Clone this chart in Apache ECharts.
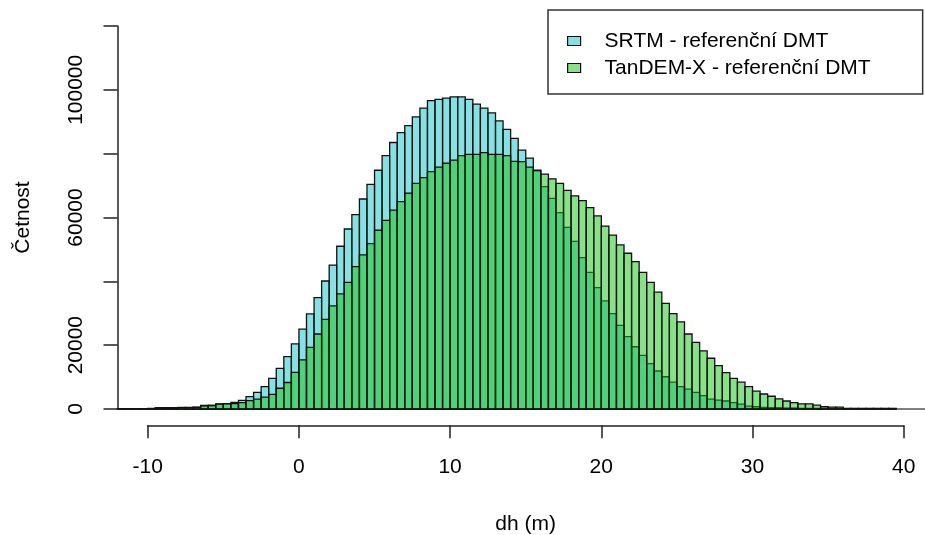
<!DOCTYPE html>
<html>
<head>
<meta charset="utf-8">
<title>Histogram dh</title>
<script src="https://cdn.jsdelivr.net/npm/echarts@6/dist/echarts.min.js"></script>
<style>
  html, body { margin: 0; padding: 0; background: #ffffff; }
  #chart { width: 925px; height: 535px; }
</style>
</head>
<body>
<div id="chart"></div>
<script>
// Left edges of the 0.5 m histogram bins
const binLeft = [
  -12, -11.5, -11, -10.5, -10, -9.5, -9, -8.5, -8, -7.5, -7, -6.5, -6, -5.5, -5, -4.5,
  -4, -3.5, -3, -2.5, -2, -1.5, -1, -0.5, 0, 0.5, 1, 1.5, 2, 2.5, 3, 3.5,
  4, 4.5, 5, 5.5, 6, 6.5, 7, 7.5, 8, 8.5, 9, 9.5, 10, 10.5, 11, 11.5,
  12, 12.5, 13, 13.5, 14, 14.5, 15, 15.5, 16, 16.5, 17, 17.5, 18, 18.5, 19, 19.5,
  20, 20.5, 21, 21.5, 22, 22.5, 23, 23.5, 24, 24.5, 25, 25.5, 26, 26.5, 27, 27.5,
  28, 28.5, 29, 29.5, 30, 30.5, 31, 31.5, 32, 32.5, 33, 33.5, 34, 34.5, 35, 35.5,
  36, 36.5, 37, 37.5, 38, 38.5, 39
];
const binWidth = 0.5;

// Counts per bin: SRTM minus reference DMT
const srtmCounts = [
  100, 100, 100, 100, 150, 300, 350, 400, 400, 450, 500, 1100, 1100, 1600, 1700, 2100,
  2700, 3900, 5200, 7000, 9600, 12700, 16400, 20400, 25000, 29800, 34900, 40100, 45100, 51000, 56400, 60900,
  65800, 70400, 74800, 79400, 83500, 86600, 88800, 91500, 94300, 96600, 97000, 97400, 97800, 97800, 97000, 95500,
  94300, 92800, 90300, 87600, 84800, 81100, 78600, 74600, 69700, 66000, 61500, 56900, 52500, 47400, 42800, 38000,
  33900, 29900, 26200, 22700, 19500, 16800, 14200, 11900, 10100, 8400, 7000, 6200, 5200, 4200, 3100, 2800,
  2500, 2000, 1500, 900, 700, 500, 400, 400, 300, 300, 200, 200, 200, 150, 150, 100,
  100, 100, 100, 100, 100, 100, 100
];

// Counts per bin: TanDEM-X minus reference DMT
const tandemCounts = [
  100, 100, 100, 100, 150, 400, 450, 450, 500, 500, 550, 1000, 1100, 1500, 1600, 1700,
  2000, 2600, 3100, 3700, 4600, 6500, 8300, 11500, 15400, 19300, 23500, 28100, 32300, 36100, 39700, 44600,
  48300, 51800, 56000, 59100, 62300, 65000, 67600, 70700, 72500, 74400, 75800, 77000, 78000, 79400, 79800, 79800,
  80300, 79800, 79800, 79400, 77600, 77500, 75800, 74800, 73600, 72100, 70700, 68500, 66800, 65300, 63100, 60500,
  57300, 54500, 51400, 48800, 46200, 42800, 39700, 36600, 33100, 29900, 27300, 23500, 20900, 18200, 15900, 13600,
  11400, 9600, 8400, 7000, 5600, 4700, 4000, 3200, 2500, 2000, 1600, 1600, 1200, 700, 600, 600,
  200, 200, 200, 200, 200, 200, 200
];

const seriesNames = ['SRTM - referenční DMT', 'TanDEM-X - referenční DMT'];
const xTicks = [-10, 0, 10, 20, 30, 40];
const yTicks = [0, 20000, 40000, 60000, 80000, 100000, 120000];
const yLabelled = [0, 20000, 60000, 100000];

const FONT = 'Liberation Sans, Arial, sans-serif';
const fillSrtm = 'rgba(13, 197, 197, 0.5)';
const fillTandem = 'rgba(17, 193, 17, 0.5)';
const edge = '#111111';

function toBins(counts) {
  return binLeft.map((x0, i) => [x0, x0 + binWidth, counts[i]]);
}

function histRenderer(fill) {
  return function (params, api) {
    const lo = api.coord([api.value(0), api.value(2)]);
    const hi = api.coord([api.value(1), 0]);
    return {
      type: 'rect',
      shape: { x: lo[0], y: lo[1], width: hi[0] - lo[0], height: hi[1] - lo[1] },
      style: { fill: fill, stroke: edge, lineWidth: 1.3 }
    };
  };
}

const chart = echarts.init(document.getElementById('chart'), null, { renderer: 'canvas' });

chart.setOption({
  animation: false,
  backgroundColor: '#ffffff',
  textStyle: { fontFamily: FONT },
  grid: [
    { left: 117.5, top: 26, width: 807.5, height: 383, containLabel: false },
    { left: 147.7, top: 425, width: 756, height: 1, containLabel: false }
  ],
  xAxis: [
    {
      gridIndex: 0, type: 'value', min: -12, max: 41.406,
      axisLine: { show: true, onZero: false, lineStyle: { color: '#555555', width: 1.5 } },
      axisTick: { show: false }, axisLabel: { show: false }, splitLine: { show: false }
    },
    {
      gridIndex: 1, type: 'value', min: xTicks[0], max: xTicks[xTicks.length - 1], interval: 10,
      position: 'bottom',
      name: 'dh (m)', nameLocation: 'middle', nameGap: 88,
      nameTextStyle: { fontFamily: FONT, fontSize: 21, color: '#000' },
      axisLine: { show: true, onZero: false, lineStyle: { color: '#222222', width: 1.5 } },
      axisTick: { show: true, length: 13, inside: false, lineStyle: { color: '#222222', width: 1.5 } },
      axisLabel: { show: true, margin: 31, fontFamily: FONT, fontSize: 21, color: '#000' },
      splitLine: { show: false }
    }
  ],
  yAxis: [
    {
      gridIndex: 0, type: 'value', min: yTicks[0], max: yTicks[yTicks.length - 1], interval: 20000,
      position: 'left',
      name: 'Četnost', nameLocation: 'middle', nameGap: 84, nameRotate: 90,
      nameTextStyle: { fontFamily: FONT, fontSize: 21, color: '#000' },
      axisLine: { show: true, onZero: false, lineStyle: { color: '#222222', width: 1.5 } },
      axisTick: { show: true, length: 14, inside: false, lineStyle: { color: '#222222', width: 1.5 } },
      axisLabel: {
        show: true, rotate: 90, margin: 31, fontFamily: FONT, fontSize: 21, color: '#000',
        formatter: v => (yLabelled.indexOf(v) >= 0 ? String(v) : '')
      },
      splitLine: { show: false }
    },
    { gridIndex: 1, type: 'value', show: false }
  ],
  legend: {
    orient: 'vertical', left: 548, top: 10,
    padding: [19, 52, 14, 19],
    itemWidth: 13, itemHeight: 9, itemGap: 3,
    borderColor: '#333333', borderWidth: 1.5, borderRadius: 0,
    textStyle: { fontFamily: FONT, fontSize: 21, color: '#000', lineHeight: 24, padding: [0, 0, 0, 19] },
    data: [
      { name: seriesNames[0], icon: 'rect', itemStyle: { color: fillSrtm, borderColor: edge, borderWidth: 1.2 } },
      { name: seriesNames[1], icon: 'rect', itemStyle: { color: fillTandem, borderColor: edge, borderWidth: 1.2 } }
    ]
  },
  series: [
    {
      name: seriesNames[0], type: 'custom', xAxisIndex: 0, yAxisIndex: 0,
      renderItem: histRenderer(fillSrtm),
      itemStyle: { color: fillSrtm },
      encode: { x: [0, 1], y: 2 },
      data: toBins(srtmCounts)
    },
    {
      name: seriesNames[1], type: 'custom', xAxisIndex: 0, yAxisIndex: 0,
      renderItem: histRenderer(fillTandem),
      itemStyle: { color: fillTandem },
      encode: { x: [0, 1], y: 2 },
      data: toBins(tandemCounts)
    }
  ]
});
</script>
</body>
</html>
